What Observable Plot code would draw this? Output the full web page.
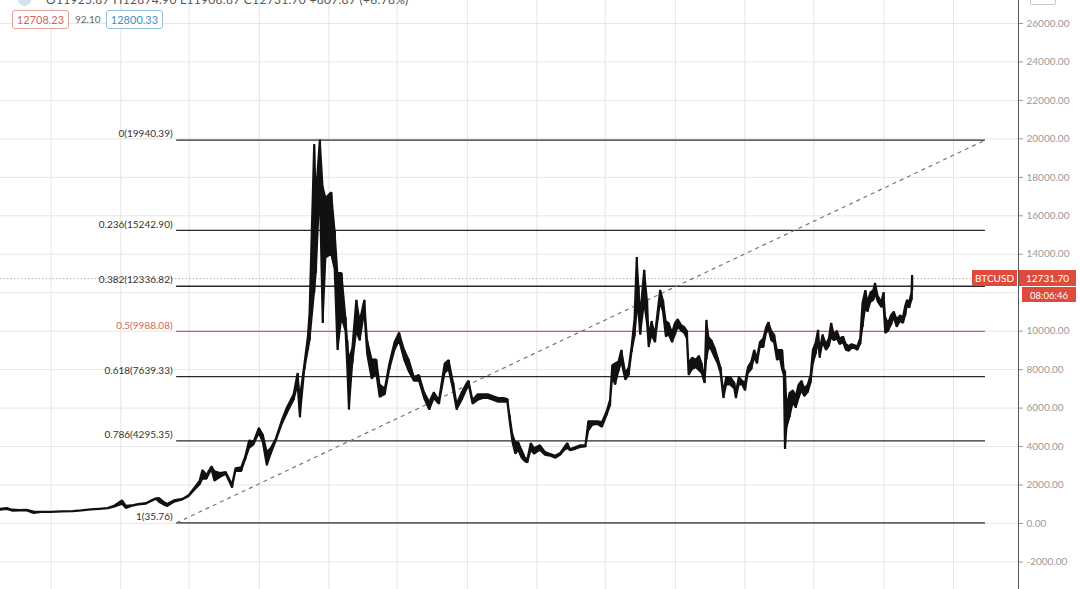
<!DOCTYPE html>
<html>
<head>
<meta charset="utf-8">
<script src="https://cdn.jsdelivr.net/npm/d3@7"></script>
<script src="https://cdn.jsdelivr.net/npm/@observablehq/plot@0.6"></script>
<style>
  html, body { margin: 0; padding: 0; background: #fff; }
  #wrap { position: relative; width: 1080px; height: 589px; overflow: hidden; background: #fff; font-family: Lato, "Open Sans", sans-serif; }
  #wrap svg { display: block; }
  .ov { position: absolute; box-sizing: border-box; white-space: nowrap; }
</style>
</head>
<body>
<div id="wrap"></div>
<script>
// ---- data : [date, low, high]
const btc2016 = [
  ["2016-06-04",690,740],["2016-06-16",720,780],["2016-06-25",640,700],["2016-07-08",650,680],
  ["2016-07-20",660,690],["2016-08-02",520,600],["2016-08-15",570,590],["2016-09-01",570,590],
  ["2016-09-20",600,615],["2016-10-10",610,625],["2016-10-25",650,670],["2016-11-10",700,720],
  ["2016-11-25",730,750],["2016-12-10",760,780],["2016-12-22",850,920]
];
const btc2017 = [
  ["2017-01-04",1000,1180],["2017-01-11",780,900],["2017-01-20",880,920],["2017-02-01",960,990],
  ["2017-02-15",1000,1040],["2017-02-25",1150,1190],["2017-03-05",1250,1290],["2017-03-10",1100,1300],
  ["2017-03-18",960,1100],["2017-03-24",880,1000],["2017-04-05",1100,1180],["2017-04-20",1220,1260],
  ["2017-05-01",1400,1450],["2017-05-10",1700,1800],["2017-05-20",2000,2200],["2017-05-25",2300,2760],
  ["2017-06-01",2300,2500],["2017-06-10",2800,2950],["2017-06-15",2200,2700],["2017-06-25",2400,2600],
  ["2017-07-05",2550,2650],["2017-07-16",1840,2000],["2017-07-22",2700,2850],["2017-08-01",2700,2900],
  ["2017-08-08",3300,3450],["2017-08-15",3900,4300],["2017-08-23",4100,4250],["2017-09-01",4700,4950],
  ["2017-09-08",4200,4600],["2017-09-15",3000,3700],["2017-09-22",3600,3900],["2017-10-01",4300,4400],
  ["2017-10-12",5200,5400],["2017-10-20",5700,6000],["2017-11-01",6400,6700],["2017-11-08",7200,7800],
  ["2017-11-12",5500,6500],["2017-11-20",8000,8300],["2017-11-26",9000,9700],["2017-11-29",9500,11000],
  ["2017-12-07",12000,19700],["2017-12-10",13000,17000],["2017-12-17",17500,19940],["2017-12-22",10400,17500],
  ["2017-12-27",13800,16900]
];
const btc2018 = [
  ["2018-01-06",14000,17200],["2018-01-12",13200,15200],["2018-01-17",9000,13000],["2018-01-24",10700,13000],
  ["2018-01-31",10000,10700],["2018-02-03",8200,9500],["2018-02-06",5900,8500],["2018-02-12",8300,9100],
  ["2018-02-19",10000,11600],["2018-02-25",9500,10500],["2018-03-05",11000,11600],["2018-03-10",8800,9500],
  ["2018-03-18",7500,8500],["2018-03-26",7800,8500],["2018-04-01",6550,7200],["2018-04-10",6700,7000],
  ["2018-04-18",8000,8300],["2018-04-27",9000,9400],["2018-05-05",9500,9900],["2018-05-14",8500,9000],
  ["2018-05-22",7900,8500],["2018-05-31",7400,7600],["2018-06-09",7400,7700],["2018-06-18",6500,6800],
  ["2018-06-27",5900,6300],["2018-07-05",6500,6800],["2018-07-14",6200,6400],["2018-07-24",7800,8300],
  ["2018-07-31",8000,8480],["2018-08-08",6900,7300],["2018-08-14",5900,6200],["2018-08-23",6400,6800],
  ["2018-09-01",7000,7300],["2018-09-04",7200,7400],["2018-09-11",6200,6400],["2018-09-20",6400,6700],
  ["2018-09-29",6500,6700],["2018-10-08",6500,6700],["2018-10-17",6400,6600],["2018-10-26",6300,6500],
  ["2018-11-04",6300,6500],["2018-11-11",6300,6450],["2018-11-15",5300,5600],["2018-11-20",4200,4600],
  ["2018-11-25",3600,4200],["2018-11-30",3800,4200],["2018-12-06",3400,3800],["2018-12-12",3200,3400],
  ["2018-12-16",3150,3300],["2018-12-22",3800,4160],["2018-12-28",3600,3900]
];
const btc2019 = [
  ["2019-01-07",3800,4050],["2019-01-16",3550,3700],["2019-01-25",3500,3600],["2019-02-03",3380,3500],
  ["2019-02-12",3550,3650],["2019-02-19",3800,3950],["2019-02-24",3900,4160],["2019-03-01",3780,3850],
  ["2019-03-10",3850,3950],["2019-03-19",3950,4050],["2019-03-28",3970,4050],["2019-04-02",4800,5300],
  ["2019-04-09",5100,5300],["2019-04-18",5150,5300],["2019-04-26",5000,5250],["2019-05-04",5600,5800],
  ["2019-05-10",6100,6400],["2019-05-14",7600,8200],["2019-05-19",7200,8300],["2019-05-25",7900,8400],
  ["2019-05-30",8400,9000],["2019-06-06",7450,7800],["2019-06-12",7700,8100],["2019-06-17",8900,9200],
  ["2019-06-22",9700,10600],["2019-06-26",11000,13830],["2019-06-29",11000,12300],["2019-07-02",9800,10800],
  ["2019-07-09",11500,13160],["2019-07-14",10400,11600],["2019-07-17",9150,9700],["2019-07-22",9800,10500],
  ["2019-07-28",9400,9800],["2019-08-02",10600,11100],["2019-08-06",11500,12120],["2019-08-11",11000,11600],
  ["2019-08-16",9700,10500],["2019-08-21",9800,10400],["2019-08-27",9400,9900],["2019-09-01",9800,10400],
  ["2019-09-06",10200,10600],["2019-09-12",10000,10300],["2019-09-17",9900,10200],["2019-09-22",9600,10000],
  ["2019-09-25",7700,8300],["2019-10-01",8000,8600],["2019-10-08",8100,8500],["2019-10-13",7950,8700],
  ["2019-10-18",7800,8300],["2019-10-23",7280,7440],["2019-10-26",8500,10560],["2019-10-30",9150,9670],
  ["2019-11-04",9000,9500],["2019-11-10",8600,9100],["2019-11-15",8300,8600],["2019-11-20",7800,8100],
  ["2019-11-25",6500,6800],["2019-11-30",7200,7600],["2019-12-07",7200,7600],["2019-12-14",7000,7300],
  ["2019-12-17",6500,6800],["2019-12-22",7200,7600],["2019-12-28",7200,7400]
];
const btc2020 = [
  ["2020-01-02",6900,7280],["2020-01-07",7800,8100],["2020-01-13",8000,8400],["2020-01-18",8630,9000],
  ["2020-01-23",8300,8600],["2020-01-28",9150,9400],["2020-02-03",9150,9600],["2020-02-08",9880,10190],
  ["2020-02-12",10100,10450],["2020-02-17",9500,10000],["2020-02-22",9400,9800],["2020-02-27",8480,9000],
  ["2020-03-03",8600,9000],["2020-03-07",8000,9000],["2020-03-10",7700,8000],["2020-03-12",3850,7900],
  ["2020-03-15",4990,6030],["2020-03-20",5510,6760],["2020-03-26",6300,6900],["2020-03-31",6000,6600],
  ["2020-04-05",6500,7200],["2020-04-10",6900,7400],["2020-04-15",6600,7000],["2020-04-21",6800,7200],
  ["2020-04-26",7300,7700],["2020-04-30",8300,9000],["2020-05-05",8800,9400],["2020-05-09",9500,10040],
  ["2020-05-12",8600,9000],["2020-05-17",9400,9800],["2020-05-23",9000,9300],["2020-05-28",9200,9600],
  ["2020-06-01",9670,10400],["2020-06-06",9500,9800],["2020-06-11",9600,10000],["2020-06-16",9300,9600],
  ["2020-06-22",9400,9700],["2020-06-27",9000,9300],["2020-07-02",8950,9200],["2020-07-07",9100,9300],
  ["2020-07-12",9100,9250],["2020-07-17",9000,9200],["2020-07-22",9300,9600],["2020-07-26",10190,11440],
  ["2020-07-31",11230,12100],["2020-08-04",11000,11500],["2020-08-09",11500,12000],["2020-08-14",11600,12100],
  ["2020-08-17",11960,12480],["2020-08-22",11500,11800],["2020-08-28",11230,11500],["2020-09-01",11300,12000],
  ["2020-09-04",9880,10700],["2020-09-09",10000,10400],["2020-09-14",10300,10800],["2020-09-19",10700,11000],
  ["2020-09-24",10200,10600],["2020-09-30",10500,10800],["2020-10-05",10400,10700],["2020-10-09",10800,11300],
  ["2020-10-12",11300,11600],["2020-10-16",11200,11500],["2020-10-20",11600,12000],["2020-10-21",12100,12900]
];

// Fibonacci retracement
const fibLevels = [0, 0.236, 0.382, 0.5, 0.618, 0.786, 1];
const fibValues = [19940.39, 15242.90, 12336.82, 9988.08, 7639.33, 4295.35, 35.76];
const fibStart = "2017-04-09";
const fibEnd = "2021-02-26";

// axes (12000 label is hidden behind the price tags in the reference; its gridline stays)
const gridValues = [-2000, 0, 2000, 4000, 6000, 8000, 10000, 12000, 14000, 16000, 18000, 20000, 22000, 24000, 26000];
const yTicks = [-2000, 0, 2000, 4000, 6000, 8000, 10000, 14000, 16000, 18000, 20000, 22000, 24000, 26000];
const gridDates = ["2016-09-01","2017-01-01","2017-05-01","2017-09-01","2018-01-01","2018-05-01","2018-09-01",
  "2019-01-01","2019-05-01","2019-09-01","2020-01-01","2020-05-01","2020-09-01","2021-01-01"];
const xDomain = ["2016-06-04", "2021-04-25"];
const yDomain = [-3432, 27196];

// header / price tags
const symbol = "BTCUSD";
const lastPrice = 12731.70;
const countdown = "08:06:46";
const ohlcText = "O11925.87 H12874.90 L11908.87 C12731.70 +807.87 (+6.78%)";
const bidText = "12708.23", spreadText = "92.10", askText = "12800.33";

// ---- build
const parse = d3.utcParse("%Y-%m-%d");
const series = [...btc2016, ...btc2017, ...btc2018, ...btc2019, ...btc2020]
  .map(([d, lo, hi]) => ({date: parse(d), low: lo, high: hi}));
const fib = fibLevels.map((l, i) => ({level: l, value: fibValues[i], red: l === 0.5}));
const fs = parse(fibStart), fe = parse(fibEnd);

const plot = Plot.plot({
  width: 1080,
  height: 589,
  marginTop: 0, marginBottom: 0, marginLeft: 0, marginRight: 62,
  style: {fontFamily: "Lato, 'Open Sans', sans-serif", fontSize: "10px", background: "#fff"},
  x: {type: "utc", domain: xDomain.map(parse), axis: null},
  y: {domain: yDomain, axis: null},
  marks: [
    Plot.ruleY(gridValues, {stroke: "#e6e6e6", strokeWidth: 1}),
    Plot.ruleX(gridDates.map(parse), {stroke: "#e6e6e6", strokeWidth: 1}),
    Plot.ruleY([lastPrice], {stroke: "#c9a7a3", strokeWidth: 1, strokeDasharray: "1.5,2"}),
    Plot.ruleY(fib, {x1: fs, x2: fe, y: "value", stroke: d => d.red ? "#d2604f" : "#2a2a2a", strokeWidth: 1.3}),
    Plot.text(fib, {x: fs, y: "value", text: d => `${d.level}(${d.value.toFixed(2)})`, textAnchor: "end", dx: -4, dy: -6,
      fill: d => d.red ? "#d06a58" : "#333", fontSize: 10}),
    Plot.link([{x1: fs, y1: fibValues[6], x2: fe, y2: fibValues[0]}], {x1: "x1", y1: "y1", x2: "x2", y2: "y2",
      stroke: "#777", strokeWidth: 1.2, strokeDasharray: "4,4"}),
    Plot.areaY(series, {x: "date", y1: "low", y2: "high", fill: "#111", stroke: "#111", strokeWidth: 1.9, strokeLinejoin: "miter"}),
    Plot.ruleX(series, {x: "date", y1: "low", y2: "high", stroke: "#111", strokeWidth: 1.6}),
    Plot.axisY(yTicks, {anchor: "right", tickFormat: d => d.toFixed(2), tickSize: 4, tickPadding: 4,
      color: "#9a9a9a", fontSize: 10}),
    Plot.frame({anchor: "right", stroke: "#555", strokeWidth: 1})
  ]
});

const wrap = document.getElementById("wrap");
wrap.appendChild(plot);

// overlays positioned from the scales
const yS = plot.scale("y");
const yp = yS.apply(lastPrice);
function ov(html, css) {
  const d = document.createElement("div");
  d.className = "ov";
  d.innerHTML = html;
  Object.assign(d.style, css);
  wrap.appendChild(d);
  return d;
}
// price tags
ov(symbol, {left: "972px", top: (yp - 8) + "px", width: "45px", height: "16px", background: "#dc4b3b", color: "#fff",
  fontSize: "10px", lineHeight: "16px", textAlign: "center"});
ov(lastPrice.toFixed(2), {left: "1019px", top: (yp - 8) + "px", width: "57px", height: "16px", background: "#dc4b3b", color: "#fff",
  fontSize: "10px", lineHeight: "16px", textAlign: "center"});
ov(countdown, {left: "1022px", top: (yp + 9) + "px", width: "54px", height: "15px", background: "#dc4b3b", color: "#fff",
  fontSize: "9.5px", lineHeight: "15px", textAlign: "center", paddingTop: "1px"});
// header
ov(ohlcText, {left: "46px", top: "-8px", fontSize: "12px", color: "#555", letterSpacing: "0.3px"});
ov("", {left: "18px", top: "-7px", width: "13px", height: "13px", borderRadius: "50%", background: "#cfe3f0"});
ov(bidText, {left: "12px", top: "10px", width: "57px", height: "19px", border: "1px solid #e2a29a", borderRadius: "3px",
  color: "#d0645a", fontSize: "11px", lineHeight: "17px", textAlign: "center", background: "#fff"});
ov(spreadText, {left: "75px", top: "10px", height: "19px", color: "#666", fontSize: "10px", lineHeight: "19px"});
ov(askText, {left: "106px", top: "10px", width: "57px", height: "19px", border: "1px solid #8fc0dc", borderRadius: "3px",
  color: "#3f8fc0", fontSize: "11px", lineHeight: "17px", textAlign: "center", background: "#fff"});
ov("", {left: "1030px", top: "-6px", width: "26px", height: "11px", border: "1px solid #ccc", borderRadius: "2px", background: "#fff"});
</script>
</body>
</html>
